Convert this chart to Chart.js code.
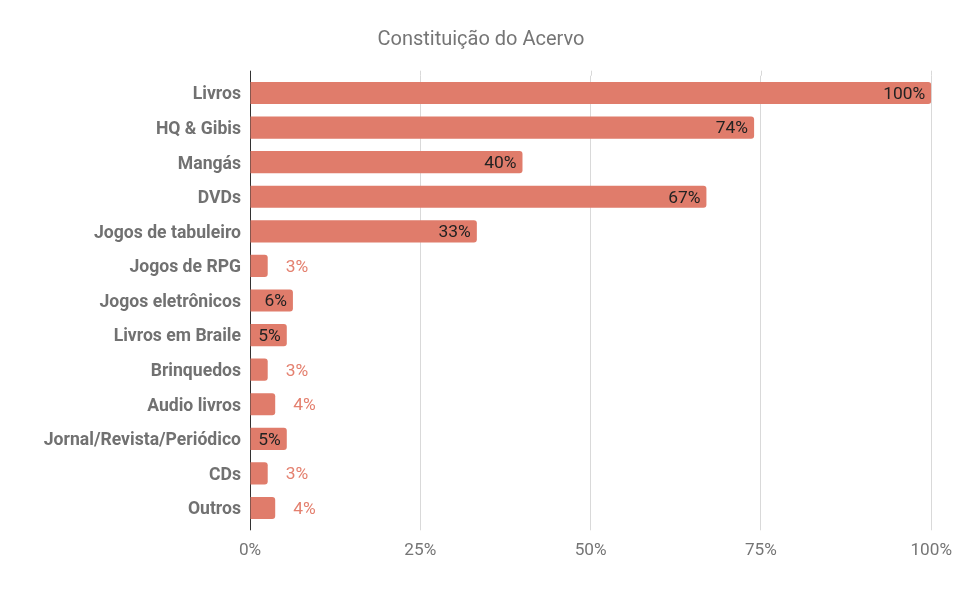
<!DOCTYPE html>
<html>
<head>
<meta charset="utf-8">
<script src="https://cdn.jsdelivr.net/npm/chart.js@4/dist/chart.umd.min.js"></script>
<style>
html,body{margin:0;padding:0;background:#fff;}
#wrap{width:962px;height:609px;position:relative;}
</style>
</head>
<body>
<div id="wrap"><canvas id="c" width="962" height="609"></canvas></div>
<script>
const categories = ["Livros","HQ & Gibis","Mangás","DVDs","Jogos de tabuleiro","Jogos de RPG","Jogos eletrônicos","Livros em Braile","Brinquedos","Audio livros","Jornal/Revista/Periódico","CDs","Outros"];
const values = [100, 74, 40, 67, 33.3, 2.6, 6.3, 5.4, 2.6, 3.7, 5.4, 2.6, 3.7];
const xTicks = [0, 25, 50, 75, 100];
const titleText = 'Constituição do Acervo';

const BAR = 'rgb(224,124,107)';
const FONT = 'Roboto';

const labelPlugin = {
  id: 'barLabels',
  afterDatasetsDraw(chart) {
    const ctx = chart.ctx;
    const meta = chart.getDatasetMeta(0);
    ctx.save();
    ctx.font = '17.4px ' + FONT;
    ctx.textBaseline = 'middle';
    meta.data.forEach((bar, i) => {
      const txt = Math.round(values[i]) + '%';
      const w = ctx.measureText(txt).width;
      const barW = bar.x - bar.base;
      if (barW >= w + 12) {
        ctx.fillStyle = '#222';
        ctx.textAlign = 'right';
        ctx.fillText(txt, bar.x - 6, bar.y + 1.5);
      } else {
        ctx.fillStyle = '#E4806F';
        ctx.textAlign = 'left';
        ctx.fillText(txt, bar.x + 18, bar.y + 1.5);
      }
    });
    ctx.restore();
  }
};

const extPlugin = {
  id: 'gridExt',
  beforeDatasetsDraw(chart) {
    const ctx = chart.ctx;
    const a = chart.chartArea;
    const xs = chart.scales.x;
    ctx.save();
    ctx.lineWidth = 1;
    ctx.strokeStyle = '#d9d9d9';
    xTicks.forEach(t => {
      if (t === 0) return;
      const px = Math.round(xs.getPixelForValue(t)) + 0.5;
      ctx.beginPath();
      ctx.moveTo(px, a.top - 5);
      ctx.lineTo(px, a.top);
      ctx.stroke();
    });
    ctx.strokeStyle = '#333';
    const p0 = Math.round(xs.getPixelForValue(0)) + 0.5;
    ctx.beginPath();
    ctx.moveTo(p0, a.top - 5);
    ctx.lineTo(p0, a.bottom + 5);
    ctx.stroke();
    // title centred on the full canvas
    ctx.font = '20px ' + FONT;
    ctx.fillStyle = '#757575';
    ctx.textAlign = 'center';
    ctx.textBaseline = 'middle';
    ctx.fillText(titleText, chart.width / 2, 40);
    ctx.restore();
  }
};

new Chart(document.getElementById('c'), {
  type: 'bar',
  data: {
    labels: categories,
    datasets: [{
      data: values,
      backgroundColor: BAR,
      borderRadius: 3,
      borderSkipped: 'start',
      categoryPercentage: 1,
      barPercentage: 0.64
    }]
  },
  options: {
    indexAxis: 'y',
    responsive: false,
    animation: false,
    layout: { padding: { left: 0, right: 30, top: 75.7, bottom: 0 } },
    plugins: {
      legend: { display: false },
      tooltip: { enabled: false },
      title: { display: false }
    },
    scales: {
      x: {
        min: 0, max: 100,
        afterBuildTicks(scale) { scale.ticks = xTicks.map(v => ({ value: v })); },
        afterFit(scale) { scale.height = 609 - 525.3; },
        ticks: {
          color: '#757575',
          font: { family: FONT, size: 17.2 },
          padding: 10,
          callback: v => v + '%'
        },
        grid: {
          color: ctx => (ctx.tick && ctx.tick.value === 0) ? 'rgba(0,0,0,0)' : '#d9d9d9',
          drawTicks: true,
          tickLength: 5
        },
        border: { display: false }
      },
      y: {
        afterFit(scale) { scale.width = 250; },
        ticks: {
          color: '#717171',
          font: { family: FONT, size: 17.6, weight: 'bold' },
          padding: 9,
          labelOffset: 2,
          autoSkip: false
        },
        grid: { display: false, drawTicks: false },
        border: { display: true, color: '#333' }
      }
    }
  },
  plugins: [labelPlugin, extPlugin]
});
</script>
</body>
</html>
